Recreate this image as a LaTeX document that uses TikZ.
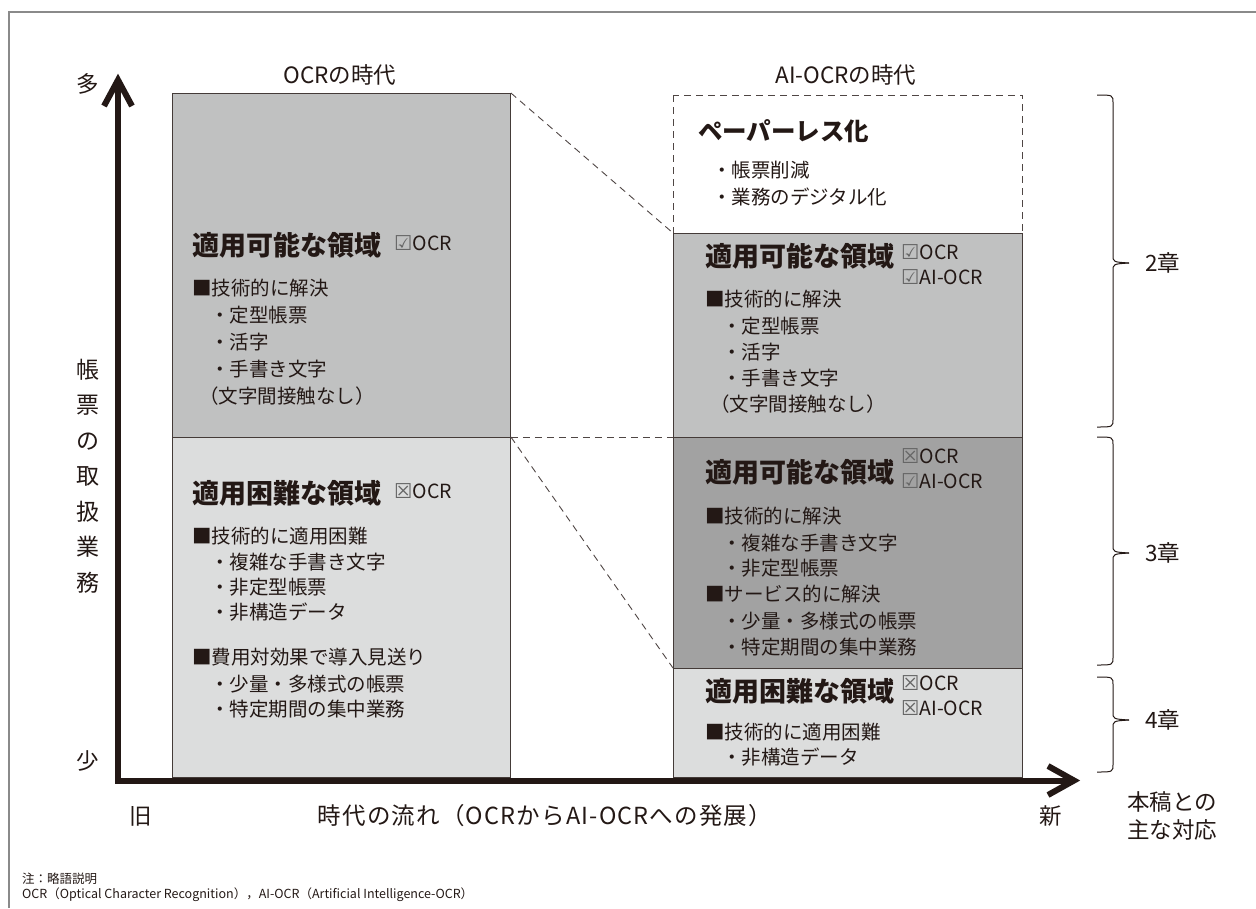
\documentclass[tikz,border=0pt]{standalone}
\usepackage{fontspec}
\setmainfont{Noto Sans CJK JP}
\newfontfamily\symf{DejaVu Sans}
\usetikzlibrary{arrows.meta}
\definecolor{ink}{HTML}{231815}
\definecolor{gmid}{HTML}{C0C1C1}
\definecolor{glight}{HTML}{DCDDDD}
\definecolor{gdark}{HTML}{A2A2A2}
\definecolor{frame}{HTML}{8A8A8A}
\newcommand{\cbyes}{{\symf\fontsize{20.5}{20.5}\selectfont\color{black!60}☑}}
\newcommand{\cbno}{{\symf\fontsize{20.5}{20.5}\selectfont\color{black!60}☒}}
\tikzset{
  box/.style={draw=ink!85, line width=0.9pt, anchor=north west, inner sep=0, minimum width=349pt},
  lbox/.style={box, minimum width=338pt},
  txt/.style={anchor=west, inner sep=0, text=ink, font=\fontsize{19.5}{22}\selectfont},
  head/.style={anchor=west, inner sep=0, text=ink, font=\bfseries\fontsize{27}{28}\selectfont},
  chk/.style={anchor=west, inner sep=0, text=ink, text height=14pt, text depth=4pt, font=\fontsize{19.5}{20}\selectfont},
  lbl/.style={inner sep=0, text=ink, font=\fontsize{22.5}{27}\selectfont},
  dsh/.style={draw=ink!80, line width=0.9pt, dash pattern=on 7pt off 5pt},
  axis/.style={line width=6pt, draw=ink},
  brc/.style={draw=ink, line width=1pt}
}
\begin{document}
\begin{tikzpicture}[x=1pt,y=-1pt]
\useasboundingbox (0,0) rectangle (1256,908);
% frame
\coordinate (f1) at (9,908);
\coordinate (f2) at (9,12);
\coordinate (f3) at (1256,12);
\draw[frame, line width=1.2pt] (f1) -- (f2) -- (f3);

% boxes left
\node[lbox, fill=gmid, minimum height=344pt] (L1) at (172,93) {};
\node[lbox, fill=glight, minimum height=340pt] (L2) at (172,437) {};
% boxes right
\node[box, draw=none, fill=white, minimum height=138pt] (R1) at (673,95) {};
\draw[dsh] (R1.north west) rectangle (R1.south east);
\node[box, fill=gmid, minimum height=204pt] (R2) at (673,233) {};
\node[box, fill=gdark, minimum height=231pt] (R3) at (673,437) {};
\node[box, fill=glight, minimum height=109pt] (R4) at (673,668) {};

% dashed connectors
\draw[dsh] (L1.north east) -- (R2.north west);
\draw[dsh] (L2.north east) -- (R3.north west);
\draw[dsh] (L2.north east) -- (R4.north west);

% axes
\coordinate (O) at (118,780.5);
\coordinate (Ytip) at (118,81);
\coordinate (Xtip) at (1073,780.5);
\draw[axis, line cap=butt] (115,780.5) -- (Xtip);
\draw[axis] (O) -- (Ytip);
\draw[axis, line join=miter, miter limit=10] (104,106) -- (118,80) -- (132,106);
\draw[axis, line join=miter, miter limit=10] (1048,766) -- (1074,780.5) -- (1048,795);

% axis labels
\node[lbl] (many) at (88,84) {多};
\node[lbl] (few) at (88,761) {少};
\node[lbl] (old) at (141,816) {旧};
\node[lbl] (new) at (1051,816) {新};
\node[lbl, font=\fontsize{23.5}{27}\selectfont\addfontfeature{LetterSpace=5}] (flow) at (545,816) {時代の流れ（OCRからAI-OCRへの発展）};
\node[lbl, align=left, font=\fontsize{22.5}{27.5}\selectfont] (corr) at (1172,816) {本稿との\\主な対応};
\node[lbl, font=\fontsize{23}{35.5}\selectfont, align=center] (ylab) at (88,476) {帳\\票\\の\\取\\扱\\業\\務};
\node[lbl] (t1) at (340,75) {OCRの時代};
\node[lbl] (t2) at (846,75) {AI-OCRの時代};

% L1 text
\node[head] (L1h) at (192,245) {適用可能な領域};
\node[chk] (L1c) at (394,245) {\cbyes OCR};
\node[txt] (L1a) at (192,288) {■技術的に解決};
\node[txt] (L1b) at (210,315) {・定型帳票};
\node[txt] (L1d) at (210,342) {・活字};
\node[txt] (L1e) at (210,369) {・手書き文字};
\node[txt] (L1f) at (199,396) {（文字間接触なし）};

% L2 text
\node[head] (L2h) at (192,493) {適用困難な領域};
\node[chk] (L2c) at (394,493) {\cbno OCR};
\node[txt] (L2a) at (192,536) {■技術的に適用困難};
\node[txt] (L2b) at (210,562) {・複雑な手書き文字};
\node[txt] (L2d) at (210,587) {・非定型帳票};
\node[txt] (L2e) at (210,612) {・非構造データ};
\node[txt] (L2f) at (192,657) {■費用対効果で導入見送り};
\node[txt] (L2g) at (210,684) {・少量・多様式の帳票};
\node[txt] (L2i) at (210,709) {・特定期間の集中業務};

% R1 text
\node[head, font=\bfseries\fontsize{24.5}{28}\selectfont] (R1h) at (698,131) {ペーパーレス化};
\node[txt] (R1a) at (712,170) {・帳票削減};
\node[txt] (R1b) at (712,197) {・業務のデジタル化};

% R2 text
\node[head] (R2h) at (705,256) {適用可能な領域};
\node[chk] (R2c) at (901,254) {\cbyes OCR};
\node[chk] (R2d) at (901,279) {\cbyes AI-OCR};
\node[txt] (R2a) at (705,299) {■技術的に解決};
\node[txt] (R2b) at (722,326) {・定型帳票};
\node[txt] (R2e) at (722,352) {・活字};
\node[txt] (R2f) at (722,378) {・手書き文字};
\node[txt] (R2g) at (710,404) {（文字間接触なし）};

% R3 text
\node[head] (R3h) at (705,472) {適用可能な領域};
\node[chk] (R3c) at (901,458) {\cbno OCR};
\node[chk] (R3d) at (901,483) {\cbyes AI-OCR};
\node[txt] (R3a) at (705,516) {■技術的に解決};
\node[txt] (R3b) at (722,543) {・複雑な手書き文字};
\node[txt] (R3e) at (722,568) {・非定型帳票};
\node[txt] (R3f) at (705,594) {■サービス的に解決};
\node[txt] (R3g) at (722,621) {・少量・多様式の帳票};
\node[txt] (R3i) at (722,647) {・特定期間の集中業務};

% R4 text
\node[head] (R4h) at (705,691) {適用困難な領域};
\node[chk] (R4c) at (901,685) {\cbno OCR};
\node[chk] (R4d) at (901,710) {\cbno AI-OCR};
\node[txt] (R4a) at (705,732) {■技術的に適用困難};
\node[txt] (R4b) at (722,757) {・非構造データ};

% braces
\draw[brc] (1097,95) .. controls (1113,95) .. (1113,103) -- (1113,255) .. controls (1113,262) .. (1129,263);
\draw[brc] (1129,263) .. controls (1113,264) .. (1113,271) -- (1113,419) .. controls (1113,427) .. (1097,427);
\draw[brc] (1097,437) .. controls (1113,437) .. (1113,445) -- (1113,545) .. controls (1113,552) .. (1129,553);
\draw[brc] (1129,553) .. controls (1113,554) .. (1113,561) -- (1113,657) .. controls (1113,665) .. (1097,665);
\draw[brc] (1097,677) .. controls (1113,677) .. (1113,685) -- (1113,712) .. controls (1113,719) .. (1129,720);
\draw[brc] (1129,720) .. controls (1113,721) .. (1113,728) -- (1113,764) .. controls (1113,772) .. (1097,772);
\node[lbl, anchor=west] (c2) at (1145,263) {2章};
\node[lbl, anchor=west] (c3) at (1145,553) {3章};
\node[lbl, anchor=west] (c4) at (1145,720) {4章};

% footnote
\node[anchor=west, inner sep=0, text=ink, font=\fontsize{12.5}{14}\selectfont] (n1) at (22,879) {注：略語説明};
\node[anchor=west, inner sep=0, text=ink, font=\fontsize{12.5}{14}\selectfont] (n2) at (22,895) {OCR（Optical Character Recognition），AI-OCR（Artificial Intelligence-OCR）};
\end{tikzpicture}
\end{document}
